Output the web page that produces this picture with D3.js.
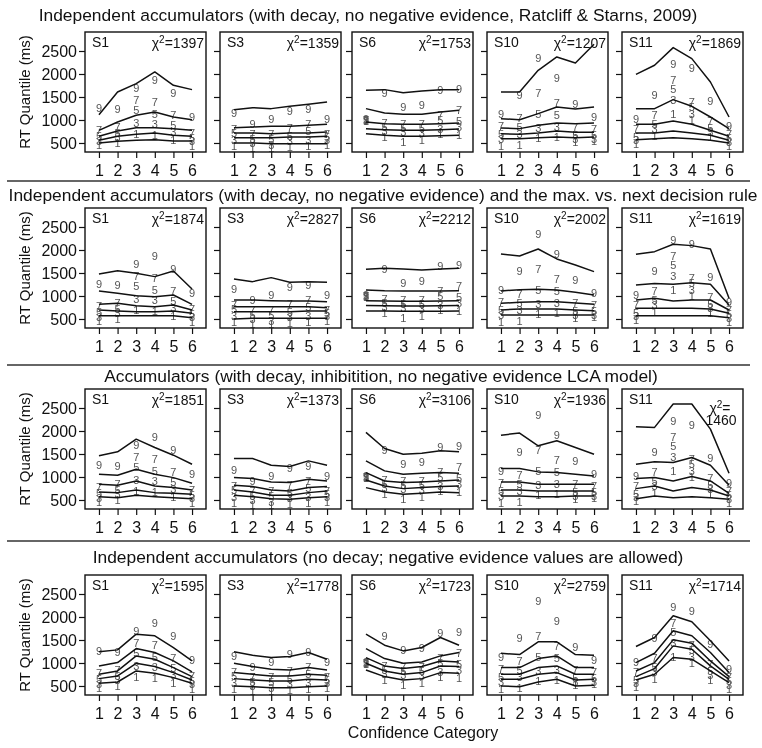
<!DOCTYPE html>
<html><head><meta charset="utf-8">
<script src="https://cdn.jsdelivr.net/npm/d3@7"></script>
<style>body{margin:0;background:#fff} svg{will-change:opacity;opacity:0.999} text{font-family:"Liberation Sans",Arial,Helvetica,sans-serif}</style>
</head><body><svg id="c" width="762" height="748"></svg>
<script>
// ---------- data ----------
const subjects = ["S1", "S3", "S6", "S10", "S11"];
const categories = [1, 2, 3, 4, 5, 6];
const quantiles = ["1", "3", "5", "7", "9"];
const yTicks = [500, 1000, 1500, 2000, 2500];
const rowTitles = [
  "Independent accumulators (with decay, no negative evidence, Ratcliff & Starns, 2009)",
  "Independent accumulators (with decay, no negative evidence) and the max. vs. next decision rule",
  "Accumulators (with decay, inhibitition, no negative evidence LCA model)",
  "Independent accumulators (no decay; negative evidence values are allowed)"
];
const chiSquare = [
  [1397, 1359, 1753, 1207, 1869],
  [1874, 2827, 2212, 2002, 1619],
  [1851, 1373, 3106, 1936, 1460],
  [1595, 1778, 1723, 2759, 1714]
];
const yAxisTitle = "RT Quantile (ms)";
const xAxisTitle = "Confidence Category";

// observed RT quantiles (.1,.3,.5,.7,.9) per subject, by confidence category
const observed = [
  [[445,500,705,670,565,430],[545,625,935,915,740,540],[645,720,1220,1120,880,615],[790,840,1430,1400,1108,725],[1252,1230,1685,1878,1580,1065]],
  [[430,395,380,420,428,465],[565,495,455,535,572,555],[718,590,580,660,750,630],[810,705,690,830,915,705],[1155,915,1010,1185,1232,1025]],
  [[975,620,510,565,705,670],[985,765,730,718,810,850],[995,855,835,815,995,982],[1000,940,910,920,1115,1218],[1010,1587,1272,1335,1656,1667]],
  [[435,455,610,627,530,547],[590,700,815,845,590,580],[700,850,1127,1112,677,670],[870,1045,1588,1377,840,808],[1135,1550,2338,1903,1345,1072]],
  [[480,645,1135,993,620,428],[555,805,1442,1140,728,518],[626,910,1667,1277,815,598],[800,1105,1870,1395,970,692],[1025,1540,2220,2140,1405,870]]
];

// model-predicted quantiles, one array per model (row), per subject
const modelRatcliffStarns = [
  [[500,536,558,572,543,543],[558,645,688,718,667,645],[645,761,833,833,812,775],[775,957,1102,1174,1066,1007],[1116,1609,1790,2044,1754,1660]],
  [[500,500,486,486,486,486],[616,616,616,630,630,645],[717,717,703,717,717,739],[833,848,862,862,884,906],[1225,1268,1247,1297,1341,1392]],
  [[703,667,645,645,660,667],[812,790,775,775,790,804],[957,920,906,906,920,935],[1247,1152,1123,1123,1174,1210],[1646,1660,1594,1631,1660,1660]],
  [[594,594,616,630,616,630],[703,688,718,761,732,732],[826,812,884,935,920,935],[1029,1007,1138,1283,1239,1283],[1609,1609,2080,2370,2240,2646]],
  [[572,594,616,594,558,500],[718,718,761,718,667,558],[906,906,978,906,775,645],[1247,1247,1443,1297,1065,812],[1993,2189,2574,2334,1826,1065]]
];
const modelMaxVsNext = [
  [[572,572,572,572,572,529],[696,674,660,660,674,623],[819,841,790,768,805,696],[1109,1058,1007,986,1022,819],[1479,1551,1493,1421,1544,1153]],
  [[500,515,515,515,515,515],[660,660,660,660,674,674],[768,768,768,768,768,746],[913,913,899,891,891,877],[1370,1312,1399,1298,1312,1298]],
  [[675,672,668,668,670,672],[795,790,785,785,790,792],[895,890,885,885,890,895],[1130,1115,1110,1108,1110,1112],[1580,1602,1587,1566,1587,1602]],
  [[587,587,587,587,587,587],[696,718,718,718,696,681],[841,862,877,877,848,819],[1109,1138,1145,1131,1080,1022],[1914,1870,2022,1805,1674,1529]],
  [[572,572,572,572,572,529],[732,732,732,732,718,623],[913,949,891,913,913,696],[1240,1269,1254,1290,1254,805],[1907,1964,2124,2095,2022,950]]
];
const modelLCA = [
  [[573,551,602,573,551,529],[674,660,718,660,645,624],[842,820,914,805,769,718],[1058,1036,1169,1058,986,863],[1460,1547,1823,1642,1474,1278]],
  [[602,573,529,515,551,573],[718,674,602,602,660,696],[820,791,718,696,769,791],[987,965,893,878,951,914],[1401,1401,1256,1227,1350,1256]],
  [[769,674,624,645,674,660],[936,805,747,769,791,805],[1096,914,878,893,914,936],[1350,1133,1060,1082,1096,1082],[1969,1620,1496,1518,1569,1547]],
  [[587,587,573,573,587,587],[718,718,696,696,696,696],[893,893,842,842,842,842],[1183,1183,1111,1096,1060,1023],[1910,1954,1678,1787,1642,1496]],
  [[529,587,551,573,551,515],[747,805,696,769,718,587],[965,987,914,1009,914,645],[1278,1329,1314,1423,1256,820],[2092,2078,2587,2587,2041,1082]]
];
const modelNoDecay = [
  [[558,587,827,776,682,558],[660,718,994,922,791,631],[754,827,1154,1082,900,704],[936,1009,1314,1227,1045,805],[1242,1285,1627,1591,1336,1045]],
  [[500,485,464,464,485,500],[660,631,609,609,645,631],[791,754,718,718,754,733],[994,922,864,849,900,849],[1242,1169,1118,1140,1227,1082]],
  [[849,704,631,660,791,776],[994,827,754,791,936,922],[1118,936,878,922,1045,1023],[1314,1096,994,1023,1154,1227],[1627,1387,1263,1336,1554,1387]],
  [[500,485,587,645,500,515],[645,645,754,791,631,645],[754,754,900,936,754,754],[900,900,1096,1154,900,900],[1212,1183,1460,1460,1183,1169]],
  [[631,754,1118,1082,827,573],[704,878,1372,1300,936,645],[827,1009,1503,1431,1045,704],[1009,1212,1700,1591,1227,791],[1358,1554,2027,1896,1482,1045]]
];
const models = [modelRatcliffStarns, modelMaxVsNext, modelLCA, modelNoDecay];

// ---------- layout ----------
const panelLefts = [85, 220, 352, 487, 622];
const panelW = 121, boxH = 120;
const rowTops = [32, 208, 389, 575];
const titleY = [15, 195, 376, 557];
const titleX = [368, 383, 381, 388];
const separatorY = [181, 365, 541];
const wrappedChi = {row: 2, col: 4};

const svg = d3.select("#c");
const x = d3.scaleLinear().domain([0.25, 6.75]).range([0, panelW]);
const y = d3.scaleLinear().domain([304, 2913]).range([boxH, 0]);
const line = d3.line().x((d, i) => x(categories[i])).y(d => y(d));

rowTitles.forEach((t, r) => {
  svg.append("text").attr("x", titleX[r]).attr("y", titleY[r]).attr("dy", "0.36em")
    .attr("text-anchor", "middle").style("font-size", "17.4px").attr("fill", "#111").text(t);
});
separatorY.forEach(sy => {
  svg.append("line").attr("x1", 7).attr("x2", 750).attr("y1", sy).attr("y2", sy)
    .attr("stroke", "#333").attr("stroke-width", 1.5);
});

models.forEach((model, r) => {
  const top = rowTops[r];
  svg.append("text").attr("transform", `translate(25,${top + boxH / 2}) rotate(-90)`)
    .attr("text-anchor", "middle").attr("dy", "0.36em").style("font-size", "15px")
    .attr("fill", "#111").text(yAxisTitle);

  subjects.forEach((s, c) => {
    const g = svg.append("g").attr("transform", `translate(${panelLefts[c]},${top})`);
    const ya = d3.axisLeft(y).tickValues(yTicks).tickSize(6).tickPadding(2)
      .tickFormat(c === 0 ? d3.format("d") : () => "");
    const yg = g.append("g").call(ya);
    yg.select(".domain").remove();
    yg.selectAll("line").attr("stroke", "#111").attr("stroke-width", 1.2);
    yg.selectAll("text").style("font-size", "16px").attr("fill", "#111");

    const xa = d3.axisBottom(x).tickValues(categories).tickSize(6).tickPadding(7).tickFormat(d3.format("d"));
    const xg = g.append("g").attr("transform", `translate(0,${boxH})`).call(xa);
    xg.select(".domain").remove();
    xg.selectAll("line").attr("stroke", "#111").attr("stroke-width", 1.2);
    xg.selectAll("text").style("font-size", "16px").attr("fill", "#111");

    observed[c].forEach((vals, qi) => {
      g.selectAll(null).data(vals).enter().append("text")
        .attr("x", (d, i) => x(categories[i])).attr("y", d => y(d)).attr("dy", "0.36em")
        .attr("text-anchor", "middle").style("font-size", "11px").attr("fill", "#555")
        .text(quantiles[qi]);
    });
    model[c].forEach(vals => {
      g.append("path").attr("d", line(vals)).attr("fill", "none")
        .attr("stroke", "#111").attr("stroke-width", 1.5).attr("stroke-linejoin", "round");
    });

    g.append("rect").attr("x", 0).attr("y", 0).attr("width", panelW).attr("height", boxH)
      .attr("fill", "none").attr("stroke", "#111").attr("stroke-width", 1.4);

    g.append("text").attr("x", 7).attr("y", 15).style("font-size", "14px").attr("fill", "#111").text(s);

    if (r === wrappedChi.row && c === wrappedChi.col) {
      const t1 = g.append("text").attr("x", panelW - 23).attr("y", 24).attr("text-anchor", "middle")
        .style("font-size", "14px").attr("fill", "#111");
      t1.append("tspan").text("χ");
      t1.append("tspan").attr("dy", -5).style("font-size", "10px").text("2");
      t1.append("tspan").attr("dy", 5).text("=");
      g.append("text").attr("x", panelW - 22).attr("y", 36).attr("text-anchor", "middle")
        .style("font-size", "14px").attr("fill", "#111").text(chiSquare[r][c]);
    } else {
      const t = g.append("text").attr("x", panelW - 2).attr("y", 16).attr("text-anchor", "end")
        .style("font-size", "14px").attr("fill", "#111");
      t.append("tspan").text("χ");
      t.append("tspan").attr("dy", -5).style("font-size", "10px").text("2");
      t.append("tspan").attr("dy", 5).text("=" + chiSquare[r][c]);
    }
  });
});

svg.append("text").attr("x", 423).attr("y", 732).attr("dy", "0.36em").attr("text-anchor", "middle")
  .style("font-size", "16px").attr("fill", "#111").text(xAxisTitle);
</script></body></html>
